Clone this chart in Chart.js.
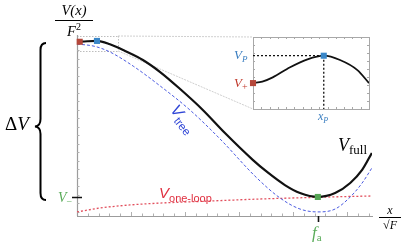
<!DOCTYPE html>
<html><head><meta charset="utf-8">
<script src="https://cdn.jsdelivr.net/npm/chart.js@4/dist/chart.umd.min.js"></script>
<style>
body{margin:0;background:#fff;}
#wrap{position:relative;width:407px;height:244px;overflow:hidden;background:#fff;}
canvas{position:absolute;left:0;top:0;}
.lb{position:absolute;white-space:nowrap;line-height:1;}
.serif{font-family:"Liberation Serif","DejaVu Serif",serif;}
.sans{font-family:"Liberation Sans","DejaVu Sans",sans-serif;}
.it{font-style:italic;}
.sub{position:relative;}
</style></head>
<body>
<div id="wrap">
<canvas id="main" width="407" height="244"></canvas>
<canvas id="inset" width="407" height="244"></canvas>
<svg style="position:absolute;left:0;top:0" width="407" height="244">
<path d="M46,43 Q40.5,43 40.5,50 L40.5,119 Q40.5,126 35,126.5 Q40.5,127 40.5,134 L40.5,193 Q40.5,200 46,200" fill="none" stroke="#000" stroke-width="2"/>
</svg>
<!-- y-axis label -->
<div class="lb serif" style="left:55px;top:3px;width:38px;text-align:center;font-size:14.5px;">
  <div class="it" style="padding-bottom:2px;border-bottom:1px solid #000;">V(x)</div>
  <div style="padding-top:1px;"><span class="it">F</span><span style="font-size:10px;vertical-align:6px;">2</span></div>
</div>
<div class="lb serif" style="left:5px;top:114px;font-size:19px;">Δ<span class="it">V</span></div>
<div class="lb serif" style="left:58px;top:191px;font-size:14px;color:#5aac5a;"><span class="it">V</span><span class="sub" style="font-size:10px;top:3px;">−</span></div>
<div class="lb sans" style="left:159px;top:185px;font-size:15px;color:#e03040;"><span class="it">V</span><span class="sub" style="font-size:11px;top:4px;">one-loop</span></div>
<div class="lb sans" style="left:180px;top:102px;font-size:16px;color:#2f45d6;transform:rotate(52deg);transform-origin:0 0;"><span class="it">V</span><span class="sub" style="font-size:11.5px;top:4px;">tree</span></div>
<div class="lb serif" style="left:338px;top:136px;font-size:18px;color:#000;"><span class="it">V</span><span class="sub" style="font-size:13px;top:3px;">full</span></div>
<div class="lb serif" style="left:312px;top:224px;font-size:17px;color:#5aac5a;"><span class="it">f</span><span class="sub" style="font-size:11px;top:3px;">a</span></div>
<div class="lb serif" style="left:379px;top:204px;width:22px;text-align:center;font-size:12px;">
  <div class="it" style="padding-bottom:1px;border-bottom:1px solid #000;">x</div>
  <div style="padding-top:1px;">√<span class="it">F</span></div>
</div>
<div class="lb serif" style="left:234px;top:48px;font-size:13px;color:#3a7ec0;"><span class="it">V</span><span class="sub it" style="font-size:9px;top:3px;">P</span></div>
<div class="lb serif" style="left:234px;top:76px;font-size:13px;color:#c0392b;"><span class="it">V</span><span class="sub" style="font-size:10px;top:3px;">+</span></div>
<div class="lb serif" style="left:318px;top:110px;font-size:12px;color:#3a7ec0;"><span class="it">x</span><span class="sub it" style="font-size:8px;top:3px;">P</span></div>
</div>
<script>
// ---- main chart data ----
const xFull = [0, 0.19, 0.37, 0.61, 0.89, 1.22, 1.54, 1.91, 2.33, 2.74, 3.26, 3.52, 3.85, 4.13, 4.46, 4.78, 5.06, 5.28, 5.46];
const vFull = [10.24, 10.28, 10.3, 10.1, 9.71, 9.18, 8.47, 7.47, 6.24, 4.88, 3.29, 2.59, 1.82, 1.35, 1.12, 1.35, 1.94, 2.71, 3.71];
const xTree = [0, 0.33, 0.61, 1.04, 1.54, 2.09, 2.65, 3.33, 3.76, 4.13, 4.46, 4.78, 5.06, 5.28, 5.46];
const vTree = [10.12, 9.98, 9.65, 8.82, 7.65, 6.24, 4.53, 2.24, 1.06, 0.41, 0.24, 0.41, 1.12, 1.94, 2.82];
const xLoop = [0, 0.43, 0.98, 1.54, 2.46, 3.39, 4.46, 5.46];
const vLoop = [0.24, 0.47, 0.65, 0.76, 0.88, 1.0, 1.1, 1.18];
// special points: V+, V_P, V- (at f_a)
const ptPlus = [0.05, 10.25];
const ptP = [0.37, 10.3];
const ptMin = [4.46, 1.12];
const zoomX = [0, 0.76];
const zoomY = [9.71, 10.59];
// ---- inset data ----
const xInset = [0, 0.08, 0.17, 0.32, 0.47, 0.61, 0.75, 0.9, 1.0];
const vInset = [0.36, 0.38, 0.44, 0.58, 0.69, 0.74, 0.68, 0.54, 0.36];
const insetPlus = [0, 0.36];
const insetP = [0.61, 0.74];

const pts = (xs, ys) => xs.map((v, i) => ({x: v, y: ys[i]}));
const RED = '#b5473a', BLUE = '#3a87c8', GREEN = '#55a555';

function marker(p, col){
  return {type:'line', data:[{x:p[0], y:p[1]}], pointStyle:'rect', pointRadius:4.3, pointHoverRadius:4.3,
    pointBackgroundColor:col, pointBorderColor:col, pointBorderWidth:0,
    backgroundColor:col, borderColor:col, borderWidth:0, showLine:false, clip:false};
}

// inset chart first so main can reference its area
const insetPlugin = {
  id:'insetFrame',
  beforeDatasetsDraw(chart){
    const {ctx, scales:{x, y}} = chart;
    const L = x.getPixelForValue(0), R = x.getPixelForValue(1), T = y.getPixelForValue(1), B = y.getPixelForValue(0);
    ctx.save();
    ctx.fillStyle = '#fff';
    ctx.fillRect(L, T, R - L, B - T);
    ctx.strokeStyle = '#a8a8a8'; ctx.lineWidth = 1;
    ctx.strokeRect(Math.round(L) + 0.5, Math.round(T) + 0.5, Math.round(R - L), Math.round(B - T));
    ctx.beginPath();
    for (let i = 1; i < 14; i++){
      const px = Math.round(x.getPixelForValue(i / 14)) + 0.5;
      ctx.moveTo(px, B); ctx.lineTo(px, B - 2);
      ctx.moveTo(px, T); ctx.lineTo(px, T + 2);
    }
    for (let i = 1; i < 9; i++){
      const py = Math.round(y.getPixelForValue(i / 9)) + 0.5;
      ctx.moveTo(L, py); ctx.lineTo(L + 2, py);
      ctx.moveTo(R, py); ctx.lineTo(R - 2, py);
    }
    ctx.stroke();
    // dashed guides
    ctx.strokeStyle = '#111'; ctx.lineWidth = 1.3; ctx.setLineDash([2, 2]);
    const xp = x.getPixelForValue(insetP[0]), yp = y.getPixelForValue(insetP[1]);
    ctx.beginPath();
    ctx.moveTo(L, yp); ctx.lineTo(xp, yp);
    ctx.moveTo(xp, yp); ctx.lineTo(xp, B);
    ctx.stroke();
    ctx.restore();
  }
};
const insetChart = new Chart(document.getElementById('inset'), {
  type:'line',
  data:{datasets:[
    marker(insetP, BLUE),
    marker(insetPlus, RED),
    {data:pts(xInset, vInset), borderColor:'#111', borderWidth:1.8, pointRadius:0, cubicInterpolationMode:'monotone', fill:false}
  ]},
  options:{
    responsive:false, animation:false, devicePixelRatio:1,
    layout:{padding:{left:253, top:37, right:38, bottom:135}},
    scales:{x:{type:'linear', min:0, max:1, display:false}, y:{min:0, max:1, display:false}},
    plugins:{legend:{display:false}, tooltip:{enabled:false}}
  },
  plugins:[insetPlugin]
});

const axesPlugin = {
  id:'axesDraw',
  beforeDatasetsDraw(chart){
    const {ctx, scales:{x, y}} = chart;
    const L = x.getPixelForValue(x.min), R = x.getPixelForValue(x.max);
    const T = y.getPixelForValue(y.max), B = y.getPixelForValue(y.min);
    ctx.save();
    // zoom rectangle
    ctx.strokeStyle = '#bdbdbd'; ctx.lineWidth = 1; ctx.setLineDash([1.5, 1.5]);
    const zx0 = x.getPixelForValue(zoomX[0]), zx1 = x.getPixelForValue(zoomX[1]);
    const zyB = y.getPixelForValue(zoomY[0]), zyT = y.getPixelForValue(zoomY[1]);
    ctx.beginPath();
    ctx.moveTo(zx0, Math.round(zyT) + 0.5); ctx.lineTo(zx1, Math.round(zyT) + 0.5);
    ctx.moveTo(zx0, Math.round(zyB) + 0.5); ctx.lineTo(zx1, Math.round(zyB) + 0.5);
    ctx.moveTo(Math.round(zx1) + 0.5, zyT); ctx.lineTo(Math.round(zx1) + 0.5, zyB);
    ctx.stroke();
    // connectors to inset
    const ia = insetChart.chartArea;
    ctx.strokeStyle = '#cfcfcf'; ctx.setLineDash([2, 1]);
    ctx.beginPath();
    ctx.moveTo(zx1, zyT); ctx.lineTo(ia.left, ia.top);
    ctx.moveTo(zx1, zyB); ctx.lineTo(ia.left, ia.bottom);
    ctx.stroke();
    // axes
    ctx.setLineDash([]);
    ctx.strokeStyle = '#9c9c9c'; ctx.lineWidth = 1.2;
    ctx.beginPath();
    ctx.moveTo(Math.round(L) + 0.5, T - 1); ctx.lineTo(Math.round(L) + 0.5, B);
    ctx.moveTo(L, Math.round(B) + 0.5); ctx.lineTo(R + 1, Math.round(B) + 0.5);
    ctx.stroke();
    ctx.lineWidth = 1; ctx.strokeStyle = '#b0b0b0';
    ctx.beginPath();
    for (let v = 0.2; v < x.max; v += 0.2){
      const major = Math.abs(v - Math.round(v)) < 1e-6;
      const px = Math.round(x.getPixelForValue(v)) + 0.5;
      ctx.moveTo(px, B); ctx.lineTo(px, B - (major ? 4 : 2.5));
    }
    for (let v = 0.25; v < y.max; v += 0.5){
      const py = Math.round(y.getPixelForValue(v)) + 0.5;
      ctx.moveTo(L, py); ctx.lineTo(L + 2.5, py);
    }
    ctx.stroke();
    ctx.restore();
  },
  afterDatasetsDraw(chart){
    const {ctx, scales:{x, y}} = chart;
    const L = x.getPixelForValue(x.min), B = y.getPixelForValue(y.min);
    ctx.save();
    ctx.strokeStyle = '#111'; ctx.lineWidth = 1.6;
    const vy = Math.round(y.getPixelForValue(ptMin[1])) + 0.5;
    const fx = Math.round(x.getPixelForValue(ptMin[0])) + 0.5;
    ctx.beginPath();
    ctx.moveTo(L - 5, vy); ctx.lineTo(L + 5, vy);
    ctx.moveTo(fx, B); ctx.lineTo(fx, B + 6);
    ctx.stroke();
    ctx.restore();
  }
};

new Chart(document.getElementById('main'), {
  type:'line',
  data:{datasets:[
    marker(ptMin, GREEN),
    marker(ptP, BLUE),
    marker(ptPlus, RED),
    {data:pts(xFull, vFull), borderColor:'#111', borderWidth:2.2, pointRadius:0, cubicInterpolationMode:'monotone', fill:false},
    {data:pts(xTree, vTree), borderColor:'#4a5ae0', borderWidth:1, borderDash:[3, 2], pointRadius:0, cubicInterpolationMode:'monotone', fill:false},
    {data:pts(xLoop, vLoop), borderColor:'#e2505e', borderWidth:1.3, borderDash:[2, 2], pointRadius:0, cubicInterpolationMode:'monotone', fill:false}
  ]},
  options:{
    responsive:false, animation:false, devicePixelRatio:1,
    layout:{padding:{left:77, top:36, right:35, bottom:28}},
    scales:{x:{type:'linear', min:0, max:5.463, display:false}, y:{min:0, max:10.59, display:false}},
    plugins:{legend:{display:false}, tooltip:{enabled:false}}
  },
  plugins:[axesPlugin]
});
</script>
</body></html>
